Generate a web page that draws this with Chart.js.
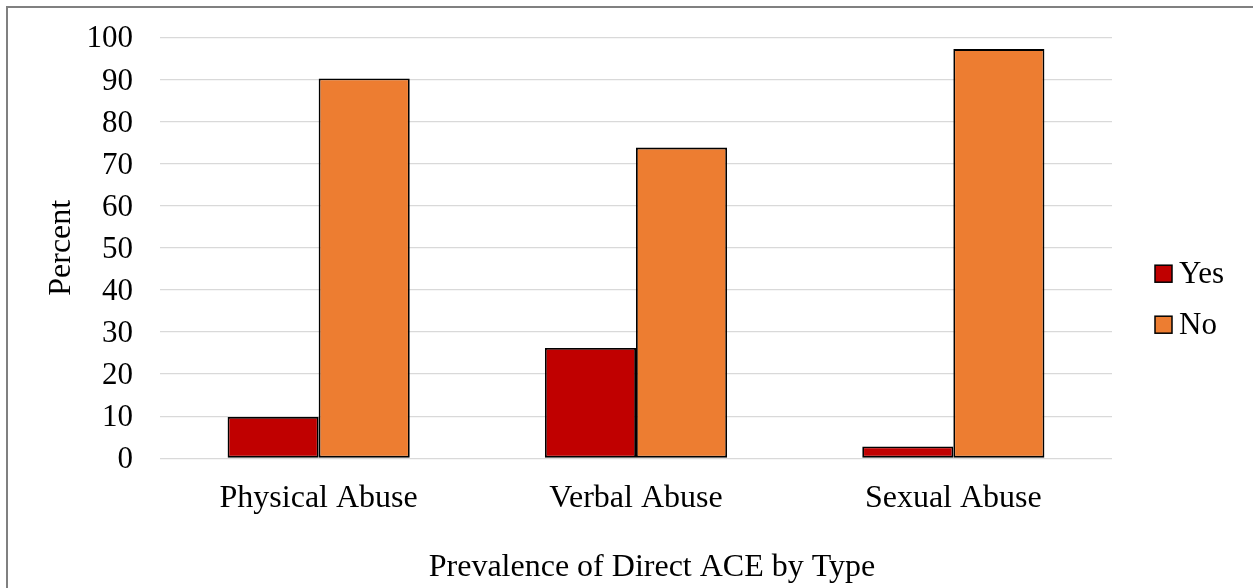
<!DOCTYPE html>
<html>
<head>
<meta charset="utf-8">
<script src="https://cdn.jsdelivr.net/npm/chart.js@4.4.1/dist/chart.umd.min.js"></script>
<style>
  html, body { margin: 0; padding: 0; background: #ffffff; }
  canvas { display: block; }
</style>
</head>
<body>
<canvas id="chart" width="1253" height="588"></canvas>
<script>
// Share of respondents reporting each type of direct adverse childhood experience
const categories = ['Physical Abuse', 'Verbal Abuse', 'Sexual Abuse'];
const yesValues = [9.8, 26.2, 2.8];
const noValues = [90.2, 73.8, 97.2];
const seriesNames = ['Yes', 'No'];

const FONT = "'Liberation Serif', 'Times New Roman', serif";
const FONT_SIZE = 32;
const TEXT = '#000000';

// Outer frame around the whole figure
const framePlugin = {
  id: 'frame',
  afterDraw(chart) {
    const ctx = chart.ctx;
    ctx.save();
    ctx.strokeStyle = '#808080';
    ctx.lineWidth = 2;
    ctx.strokeRect(7, 7, chart.width + 20, chart.height + 20);
    ctx.restore();
  }
};

// Compact legend on the right: small square swatch followed by the series name
const sideLegend = {
  id: 'sideLegend',
  afterDraw(chart) {
    const ctx = chart.ctx;
    const x = 1155, box = 17, firstY = 273.7, step = 51;
    ctx.save();
    ctx.font = 31 + 'px ' + FONT;
    ctx.textBaseline = 'middle';
    ctx.textAlign = 'left';
    chart.data.datasets.forEach((ds, i) => {
      const cy = firstY + i * step;
      ctx.fillStyle = ds.backgroundColor;
      ctx.fillRect(x, cy - box / 2, box, box);
      ctx.strokeStyle = '#000000';
      ctx.lineWidth = 1.5;
      ctx.strokeRect(x, cy - box / 2, box, box);
      ctx.fillStyle = TEXT;
      ctx.fillText(ds.label, x + box + 7, cy + 1);
    });
    ctx.restore();
  }
};

const LAYOUT = { left: 10, right: 141, top: 37.3, bottom: 0 };
const PLOT_LEFT = 160;
const PLOT_BOTTOM = 458.3;

new Chart(document.getElementById('chart'), {
  type: 'bar',
  data: {
    labels: categories,
    datasets: [
      {
        label: seriesNames[0],
        data: yesValues,
        backgroundColor: '#C00000',
        borderColor: '#000000',
        borderWidth: 1.8,
        borderSkipped: false
      },
      {
        label: seriesNames[1],
        data: noValues,
        backgroundColor: '#ED7D31',
        borderColor: '#000000',
        borderWidth: 1.8,
        borderSkipped: false
      }
    ]
  },
  options: {
    responsive: false,
    animation: false,
    devicePixelRatio: 1,
    layout: { padding: LAYOUT },
    datasets: {
      bar: { categoryPercentage: 0.574, barPercentage: 1.0 }
    },
    plugins: {
      legend: { display: false },
      tooltip: { enabled: false },
      title: { display: false }
    },
    scales: {
      x: {
        grid: { display: false, drawTicks: false },
        border: { display: false },
        ticks: {
          color: TEXT,
          font: { family: FONT, size: FONT_SIZE },
          padding: 21,
          maxRotation: 0
        },
        title: {
          display: true,
          text: '    Prevalence of Direct ACE by Type',
          color: TEXT,
          font: { family: FONT, size: FONT_SIZE },
          padding: { top: 0, bottom: 1 }
        },
        afterFit(scale) {
          scale.height = 588 - PLOT_BOTTOM - LAYOUT.bottom;
        }
      },
      y: {
        min: 0,
        max: 100,
        grid: {
          color: '#D9D9D9',
          lineWidth: 1.3,
          drawTicks: false
        },
        border: { display: false },
        ticks: {
          stepSize: 10,
          color: TEXT,
          font: { family: FONT, size: 31 },
          padding: 27,
          labelOffset: 2
        },
        title: {
          display: true,
          text: 'Percent',
          color: TEXT,
          font: { family: FONT, size: FONT_SIZE },
          padding: { top: 32, bottom: 0 }
        },
        afterFit(scale) {
          scale.width = PLOT_LEFT - LAYOUT.left;
          // the label gap is horizontal only; keep the plot top at the layout padding
          scale.paddingTop = 0;
          scale.paddingBottom = 0;
        }
      }
    }
  },
  plugins: [framePlugin, sideLegend]
});
</script>
</body>
</html>
